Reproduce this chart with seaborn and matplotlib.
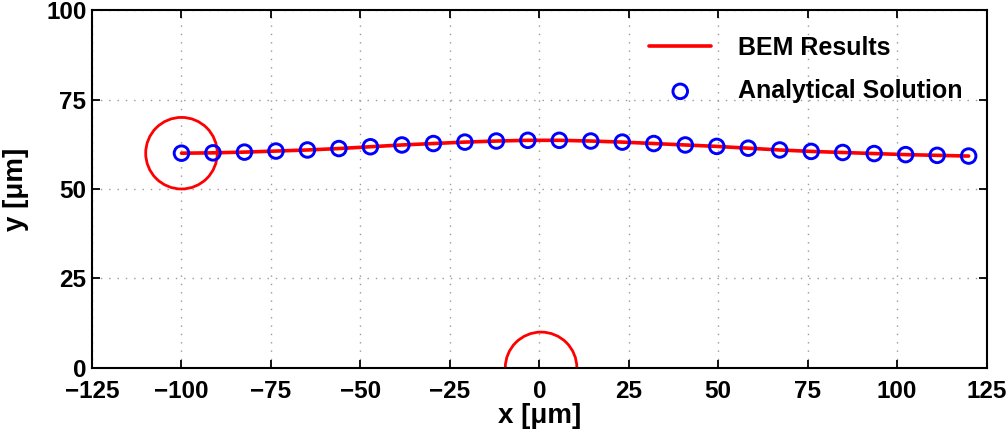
import numpy as np
import pandas as pd
import matplotlib
matplotlib.use("Agg")
import matplotlib.pyplot as plt
from matplotlib.patches import Circle
import seaborn as sns

# Trajectory data
x_um = [-100.0, -91.2, -82.4, -73.6, -64.8, -56.0, -47.2, -38.4, -29.6, -20.8,
        -12.0, -3.2, 5.6, 14.4, 23.2, 32.0, 40.8, 49.6, 58.4, 67.2,
        76.0, 84.8, 93.6, 102.4, 111.2, 120.0]
y_bem = [60.0, 60.1, 60.3, 60.6, 60.9, 61.3, 61.8, 62.3, 62.7, 63.1,
         63.4, 63.6, 63.6, 63.4, 63.1, 62.7, 62.3, 61.9, 61.4, 60.9,
         60.5, 60.2, 59.9, 59.6, 59.4, 59.2]
y_analytical = y_bem

# Obstacles / particle outlines: centre x, centre y, radius
circle_x = [-100.0, 0.5]
circle_y = [60.0, 0.0]
circle_r = [10.0, 10.0]

xticks = [-125, -100, -75, -50, -25, 0, 25, 50, 75, 100, 125]
yticks = [0, 25, 50, 75, 100]


def main():
    sns.set_theme(style="ticks")
    plt.rcParams['font.family'] = ['Liberation Sans', 'DejaVu Sans']
    plt.rcParams['font.weight'] = 'bold'
    plt.rcParams['text.color'] = 'black'
    plt.rcParams['axes.labelcolor'] = 'black'
    plt.rcParams['xtick.color'] = 'black'
    plt.rcParams['ytick.color'] = 'black'

    df = pd.DataFrame({'x': x_um, 'bem': y_bem, 'ana': y_analytical})

    fig = plt.figure(figsize=(10.08, 4.29), dpi=100)
    ax = fig.add_axes([0.0913, 0.142, 0.8874, 0.835])

    sns.lineplot(data=df, x='x', y='bem', color='#ff0000', linewidth=2.6,
                 label='BEM Results', ax=ax, zorder=2)
    sns.scatterplot(data=df, x='x', y='ana', marker='o', s=110,
                    facecolors='none', edgecolors='#0000ff', linewidths=2.1,
                    label='Analytical Solution', ax=ax, zorder=3)

    for cx, cy, r in zip(circle_x, circle_y, circle_r):
        ax.add_patch(Circle((cx, cy), r, fill=False, edgecolor='#ff0000',
                            linewidth=2.0, zorder=2))

    ax.set_xlim(-125, 125)
    ax.set_ylim(0, 100)
    ax.set_xticks(xticks)
    ax.set_yticks(yticks)
    ax.set_aspect('equal', adjustable='box')

    ax.grid(True, linestyle=(0, (1, 5)), color='#999999', linewidth=1.0)
    ax.tick_params(direction='in', length=6, width=1.3, top=True, right=True,
                   labelsize=17.5)
    ax.tick_params(axis='x', pad=9)
    ax.tick_params(axis='y', pad=4)
    for lab in ax.get_xticklabels() + ax.get_yticklabels():
        lab.set_fontweight('bold')
    for sp in ax.spines.values():
        sp.set_linewidth(1.5)
        sp.set_color('black')

    ax.set_xlabel('x [μm]', fontsize=20, fontweight='bold', labelpad=0)
    ax.set_ylabel('y [μm]', fontsize=20, fontweight='bold', labelpad=12)

    ax.legend(loc='upper right', bbox_to_anchor=(0.998, 0.99),
              frameon=False, handlelength=2.5,
              handletextpad=1.05, labelspacing=0.75,
              prop={'weight': 'bold', 'size': 18})

    fig.savefig('out.png', dpi=100, facecolor='white')
    plt.close(fig)


if __name__ == '__main__':
    main()
